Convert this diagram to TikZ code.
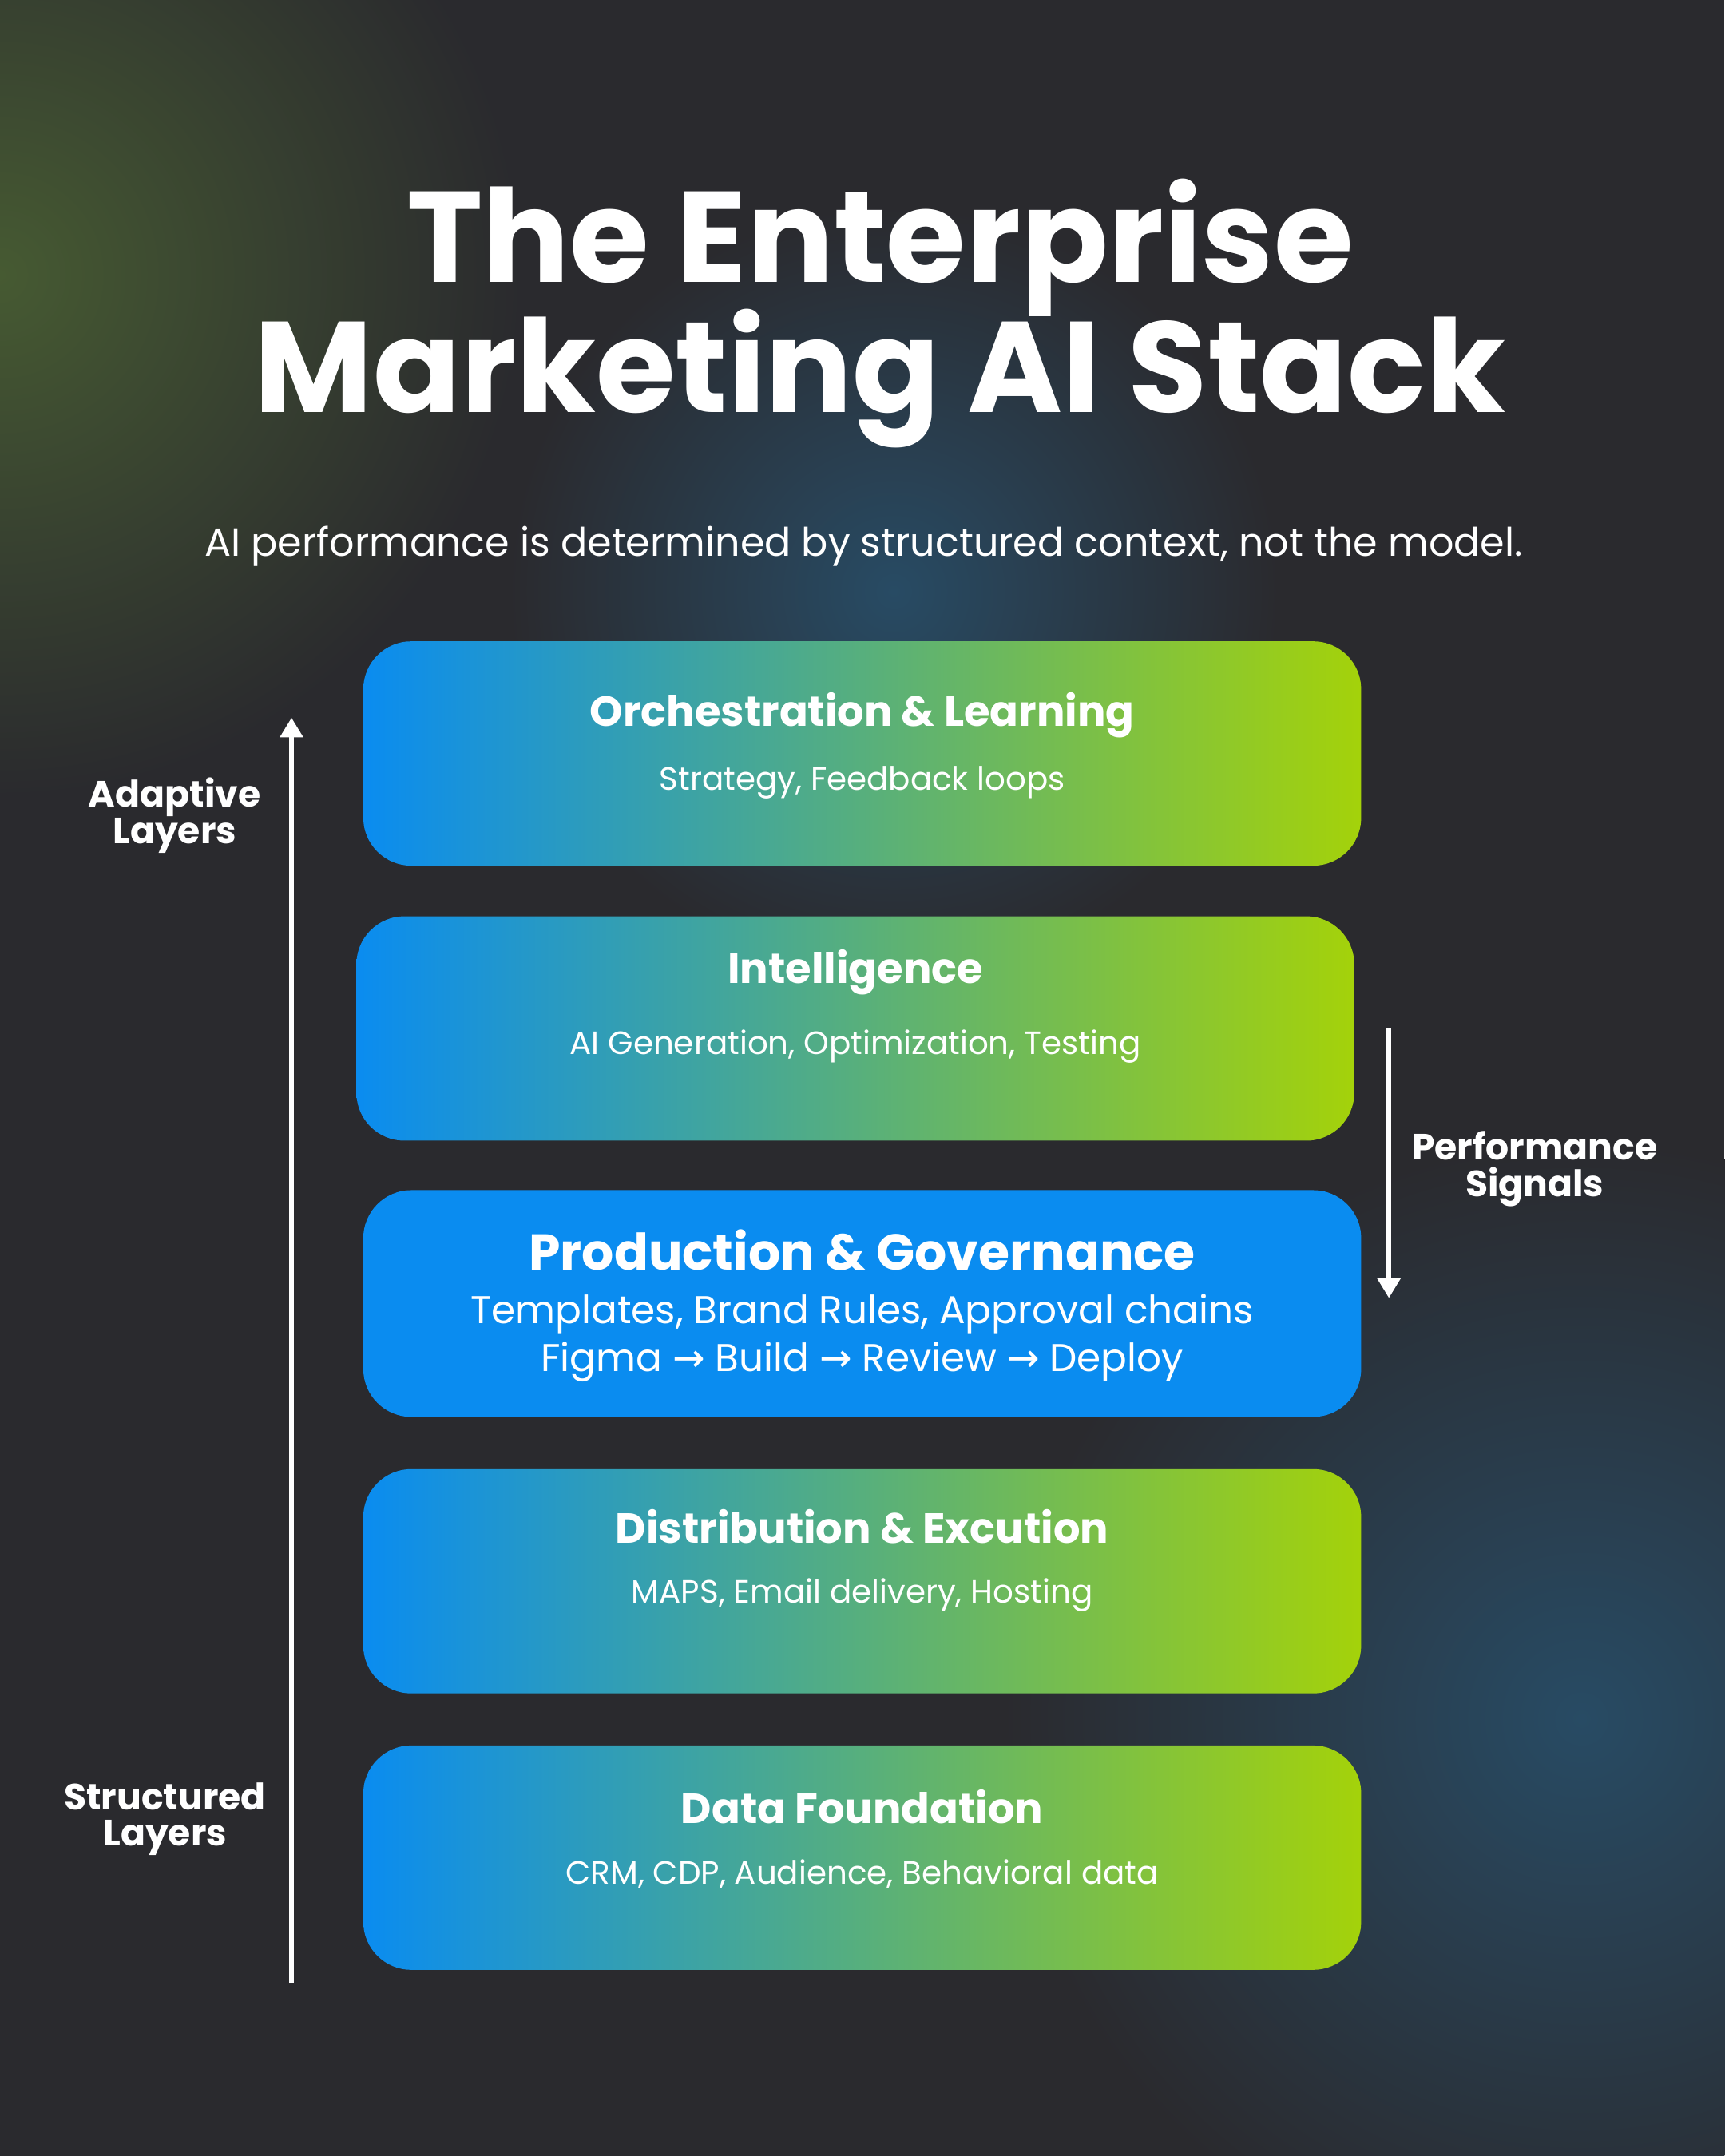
\documentclass[tikz,border=0pt]{standalone}
\usepackage{fontspec}
\setmainfont{Poppins}
\newfontfamily\arr{DejaVu Sans}
\usetikzlibrary{arrows.meta, positioning, calc}
\definecolor{stackbg}{RGB}{42, 42, 46}
\definecolor{stackblue}{RGB}{10, 140, 240}
\definecolor{stacklime}{RGB}{164, 210, 10}
\definecolor{glowgreen}{RGB}{70, 90, 50}
\definecolor{glowblue}{RGB}{40, 75, 100}
\tikzset{
  layer/.style={rounded corners=0.6cm, minimum width=12.5cm, minimum height=2.81cm,
    left color=stackblue, right color=stacklime, inner sep=0pt},
  layertitle/.style={text=white, font=\fontsize{15}{18}\selectfont\bfseries},
  layersub/.style={text=white, font=\fontsize{11.5}{14}\selectfont},
  sidelabel/.style={text=white, align=center, font=\fontsize{13}{13}\selectfont\bfseries},
  flow/.style={white, line width=1.6pt, -{Triangle[length=7pt, width=8pt]}}
}
\begin{document}
\begin{tikzpicture}[x=0.017225cm, y=-0.017225cm]
\useasboundingbox (0,0) rectangle (1254,1568);
% Background
\begin{scope}
\clip (0,0) rectangle (1254,1568);
\fill[stackbg] (0,0) rectangle (1254,1568);
\shade[inner color=glowgreen, outer color=stackbg] (0,200) circle (380);
\shade[inner color=glowblue, outer color=stackbg] (650,430) circle (280);
\shade[inner color=glowblue, outer color=stackbg] (1150,1250) circle (420);
\end{scope}

% Title
\node[text=white, font=\fontsize{46}{46}\selectfont\bfseries] (t1) at (640,180) {The Enterprise};
\node[text=white, font=\fontsize{46}{46}\selectfont\bfseries] (t2) at (640,275) {Marketing AI Stack};
\node[text=white, font=\fontsize{14}{16}\selectfont] (sub) at (628,397) {AI performance is determined by structured context, not the model.};

% Layers
\node[layer] (l1) at (627,548) {};
\node[layer] (l2) at (622,748) {};
\node[layer, minimum height=2.84cm, left color=stackblue, right color=stackblue] (l3) at (627,948) {};
\node[layer] (l4) at (627,1150) {};
\node[layer] (l5) at (627,1351) {};

\node[layertitle] at ($(l1.north)+(0,54)$) {Orchestration \& Learning};
\node[layersub] at ($(l1.north)+(0,103)$) {Strategy, Feedback loops};
\node[layertitle] at ($(l2.north)+(0,41)$) {Intelligence};
\node[layersub] at ($(l2.north)+(0,95)$) {AI Generation, Optimization, Testing};
\node[layertitle, font=\fontsize{18}{22}\selectfont\bfseries] at ($(l3.north)+(0,44)$) {Production \& Governance};
\node[layersub, align=center, font=\fontsize{13.8}{17}\selectfont] at ($(l3.north)+(0,108)$)
  {Templates, Brand Rules, Approval chains\\Figma {\arr→} Build {\arr→} Review {\arr→} Deploy};
\node[layertitle] at ($(l4.north)+(0,42)$) {Distribution \& Excution};
\node[layersub] at ($(l4.north)+(0,92)$) {MAPS, Email delivery, Hosting};
\node[layertitle] at ($(l5.north)+(0,45)$) {Data Foundation};
\node[layersub] at ($(l5.north)+(0,94)$) {CRM, CDP, Audience, Behavioral data};

% Side arrows
\coordinate (upbot) at (212,1442);
\coordinate (uptop) at (212,522);
\draw[flow] (upbot) -- (uptop);
\coordinate (dntop) at (1010,748);
\coordinate (dnbot) at (1010,944);
\draw[flow] (dntop) -- (dnbot);

\node[sidelabel] (adapt) at (127,593) {Adaptive\\Layers};
\node[sidelabel] (struct) at (120,1323) {Structured\\Layers};
\node[sidelabel] (perf) at (1116,850) {Performance\\Signals};
\end{tikzpicture}
\end{document}
